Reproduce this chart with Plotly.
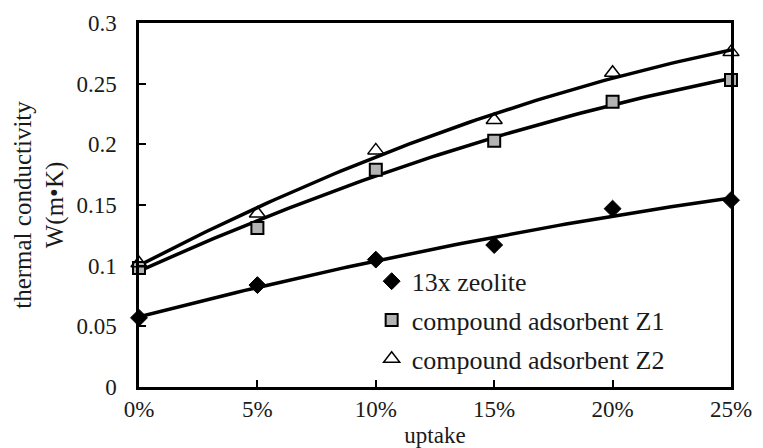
import numpy as np
import plotly.graph_objects as go

uptake = [0.0, 0.05, 0.10, 0.15, 0.20, 0.25]
zeolite_13x = [0.057, 0.084, 0.105, 0.117, 0.147, 0.154]
adsorbent_z1 = [0.098, 0.131, 0.179, 0.203, 0.235, 0.253]
adsorbent_z2 = [0.102, 0.143, 0.195, 0.220, 0.259, 0.276]
series_names = ["13x zeolite", "compound adsorbent Z1", "compound adsorbent Z2"]
y_ticks = [0, 0.05, 0.1, 0.15, 0.2, 0.25, 0.3]
y_tick_labels = ["0", "0.05", "0.1", "0.15", "0.2", "0.25", "0.3"]
x_ticks = [0.0, 0.05, 0.10, 0.15, 0.20, 0.25]

FONT = "Liberation Serif, Times New Roman, serif"
fig = go.Figure()

xs = np.linspace(0, 0.25, 80)
for ys in (zeolite_13x, adsorbent_z1, adsorbent_z2):
    c = np.polyfit(uptake, ys, 2)
    fig.add_trace(go.Scatter(x=xs, y=np.polyval(c, xs), mode="lines",
                             line=dict(color="black", width=3.5),
                             showlegend=False, hoverinfo="skip", cliponaxis=False))

styles = [
    dict(symbol="diamond", size=13, color="black", line=dict(color="black", width=1)),
    dict(symbol="square", size=12, color="#b3b3b3", line=dict(color="black", width=2)),
    dict(symbol="triangle-up-open", size=14, color="black", line=dict(color="black", width=1.5)),
]
for i, (name, ys, mk) in enumerate(zip(series_names, (zeolite_13x, adsorbent_z1, adsorbent_z2), styles)):
    fig.add_trace(go.Scatter(x=uptake, y=ys, mode="markers", name=name,
                             legendgroup=f"g{i}", marker=mk, cliponaxis=False))

fig.update_layout(
    width=763, height=448,
    margin=dict(l=131, r=40, t=15, b=69, autoexpand=False),
    paper_bgcolor="white", plot_bgcolor="white",
    font=dict(family=FONT, size=23, color="#1a1a1a"),
    legend=dict(x=0.393, y=0.355, xanchor="left", yanchor="top",
                bgcolor="rgba(0,0,0,0)", font=dict(family=FONT, size=26),
                tracegroupgap=2, itemsizing="trace"),
    xaxis=dict(range=[0, 0.25], tickvals=x_ticks, tickformat=".0%",
               ticks="inside", ticklen=7, tickwidth=1.5, tickcolor="black",
               showline=True, linecolor="black", linewidth=2.5, mirror=True,
               showgrid=False, zeroline=False, automargin=False,
               tickfont=dict(family=FONT, size=23),
               title=dict(text="uptake", font=dict(family=FONT, size=23), standoff=6)),
    yaxis=dict(range=[0, 0.3], tickvals=y_ticks, ticktext=y_tick_labels,
               ticks="inside", ticklen=7, tickwidth=1.5, tickcolor="black",
               showline=True, linecolor="black", linewidth=2.5, mirror=True,
               showgrid=False, zeroline=False, ticklabelstandoff=15, automargin=False,
               tickfont=dict(family=FONT, size=23),
               title=dict(text="thermal conductivity<br>W(m•K)",
                          font=dict(family=FONT, size=25), standoff=6)),
)
fig.write_html("out.html")
